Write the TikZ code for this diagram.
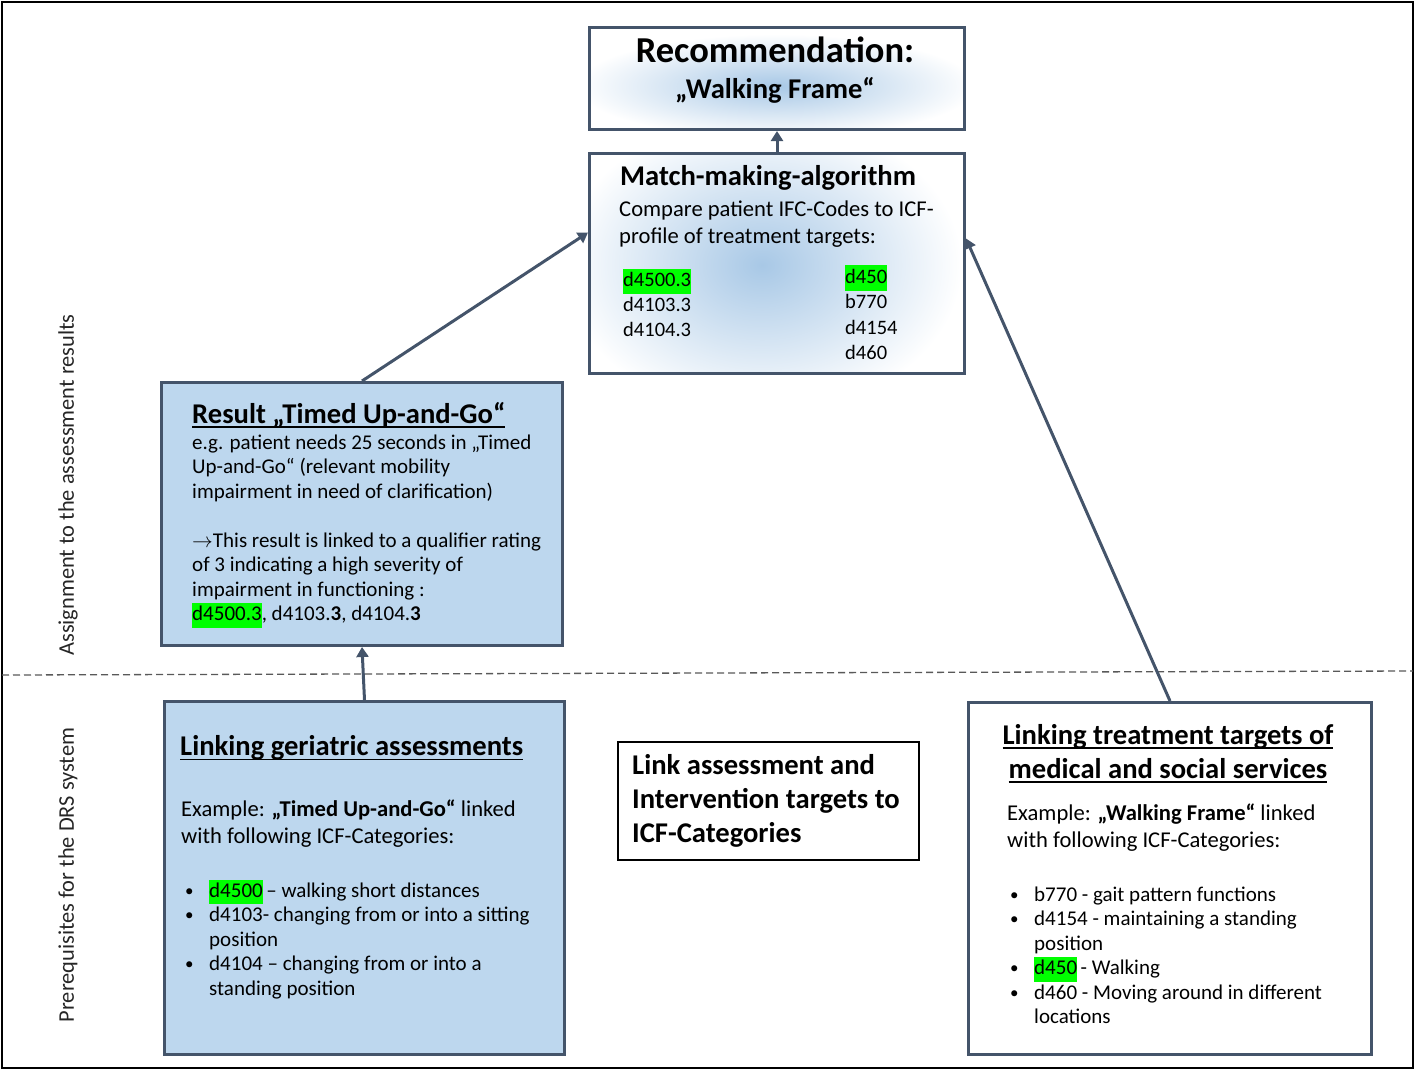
\documentclass[tikz,border=0pt]{standalone}
\usepackage{fontspec}
\setmainfont{Carlito}
\usetikzlibrary{arrows.meta}
\definecolor{slate}{HTML}{44546A}
\definecolor{boxblue}{HTML}{BDD7EE}
\definecolor{hlgreen}{HTML}{00FF00}
\definecolor{glow}{HTML}{A8C8E6}
\newcommand\hlg[1]{{\setlength{\fboxsep}{0pt}\colorbox{hlgreen}{\strut#1}}}
\newcommand\bul{\makebox[24pt][l]{\fontsize{17}{20}\selectfont\raisebox{1pt}{•}}}
\newcommand\ind{\hspace*{24pt}}
\newsavebox\ulbox
\newcommand\uln[1]{\leavevmode\sbox\ulbox{#1}\rlap{\rule[-4.5pt]{\wd\ulbox}{1.6pt}}\usebox\ulbox}
\tikzset{
  panel/.style={draw=slate, line width=3pt, inner sep=0pt, anchor=north west},
  bluepanel/.style={panel, fill=boxblue},
  conn/.style={draw=slate, line width=3pt, -{Triangle[length=10pt,width=12pt]}},
  txt/.style={inner sep=0pt, anchor=north west, align=left},
  body/.style={txt, font=\fontsize{21}{24.5}\selectfont},
  bodyb/.style={txt, font=\fontsize{22.6}{27}\selectfont},
  ttl/.style={inner sep=0pt, anchor=west, font=\bfseries\fontsize{28.6}{34}\selectfont},
  side/.style={inner sep=0pt, rotate=90, font=\fontsize{22.4}{26}\selectfont, text=black!85},
}
\begin{document}
\begin{tikzpicture}[x=1pt,y=-1pt]
\useasboundingbox (0,0) rectangle (1416,1072);
\draw[line width=2pt] (2,2) rectangle (1413,1068);
\draw[line width=1.3pt, draw=black!65, dash pattern=on 7pt off 4pt] (2,675) -- (1413,671);

% side labels
\node[side] (lab1) at (68,485) {Assignment to the assessment results};
\node[side] (lab2) at (68,875) {Prerequisites for the DRS system};

% glows (drawn below the boxes)
\begin{scope}
\clip (588,26) rectangle (963,128);
\shade[inner color=glow, outer color=white] (776,86) ellipse [x radius=200pt, y radius=52pt];
\end{scope}
\begin{scope}
\clip (588,152) rectangle (963,372);
\shade[inner color=glow, outer color=white] (762,265) ellipse [x radius=200pt, y radius=150pt];
\end{scope}

% Recommendation box
\node[panel, minimum width=375pt, minimum height=102pt] (rec) at (588,26) {};
\node[inner sep=0pt, font=\bfseries\fontsize{36.5}{42}\selectfont] (rect1) at (775,50) {Recommendation:};
\node[inner sep=0pt, font=\bfseries\fontsize{28.6}{34}\selectfont] (rect2) at (775,90) {„Walking Frame“};

% Match-making box
\node[panel, minimum width=375pt, minimum height=220pt] (match) at (588,152) {};
\node[ttl] (matcht) at (620,178) {Match-making-algorithm};
\node[bodyb] (matchb) at (619,197.5) {\strut Compare patient IFC-Codes to ICF-\\profile of treatment targets:};
\node[body, font=\fontsize{20.5}{25}\selectfont] (codesl) at (623,268.5) {\strut\hlg{d4500.3}\\d4103.3\\d4104.3};
\node[body, font=\fontsize{20.5}{25.5}\selectfont] (codesr) at (845,265) {\strut\hlg{d450}\\b770\\d4154\\d460};

% Result box
\node[bluepanel, minimum width=401pt, minimum height=263pt] (res) at (160,381) {};
\node[ttl] (rest) at (192,415) {\uln{Result „Timed Up-and-Go“}};
\node[body] (resb) at (192,431.75) {\strut e.g. patient needs 25 seconds in  „Timed\\
Up-and-Go“ (relevant mobility\\
impairment in need of clarification)\\
\mbox{}\\
$\rightarrow$This result is linked to a qualifier rating\\
of 3 indicating a high severity of\\
impairment in functioning :\\
\hlg{d4500.3}, d4103.\textbf{3}, d4104.\textbf{3}};

% Linking geriatric assessments
\node[bluepanel, minimum width=400pt, minimum height=353pt] (geri) at (163,700) {};
\node[ttl] (gerit) at (180,748) {\uln{Linking geriatric assessments}};
\node[bodyb] (gerie) at (181,797.5) {\strut Example: \textbf{„Timed Up-and-Go“} linked\\with following ICF-Categories:};
\node[body] (gerib) at (185,879.75) {\strut\bul\hlg{d4500}\,– walking short distances\\
\bul d4103- changing from or into a sitting\\
\ind position\\
\bul d4104 – changing from or into a\\
\ind standing position};

% Link assessment box
\node[panel, draw=black, line width=2pt, minimum width=301pt, minimum height=118pt] (link) at (617,741) {};
\node[txt, font=\bfseries\fontsize{28.6}{34}\selectfont] (linkt) at (632,750) {\strut Link assessment and\\Intervention targets to\\ICF-Categories};

% Linking treatment targets
\node[panel, minimum width=403pt, minimum height=352pt] (treat) at (967,701) {};
\node[inner sep=0pt, anchor=north, align=center, font=\bfseries\fontsize{28.6}{34}\selectfont] (treatt) at (1168,720) {\strut\uln{Linking treatment targets of}\\\uln{medical and social services}};
\node[bodyb] (treate) at (1007,801.5) {\strut Example: \textbf{„Walking Frame“}  linked\\with following ICF-Categories:};
\node[body] (treatb) at (1010,883.75) {\strut\bul b770 - gait pattern functions\\
\bul d4154 - maintaining a standing\\
\ind position\\
\bul\hlg{d450}\,- Walking\\
\bul d460 - Moving around in different\\
\ind locations};

% connectors
\draw[conn] (match.north) -- (rec.south);
\draw[conn] (res.north) -- ([yshift=31pt]match.west);
\draw[conn] (geri.north) -- (res.south);
\draw[conn] (treat.north) -- ([yshift=25pt]match.east);
\end{tikzpicture}
\end{document}
